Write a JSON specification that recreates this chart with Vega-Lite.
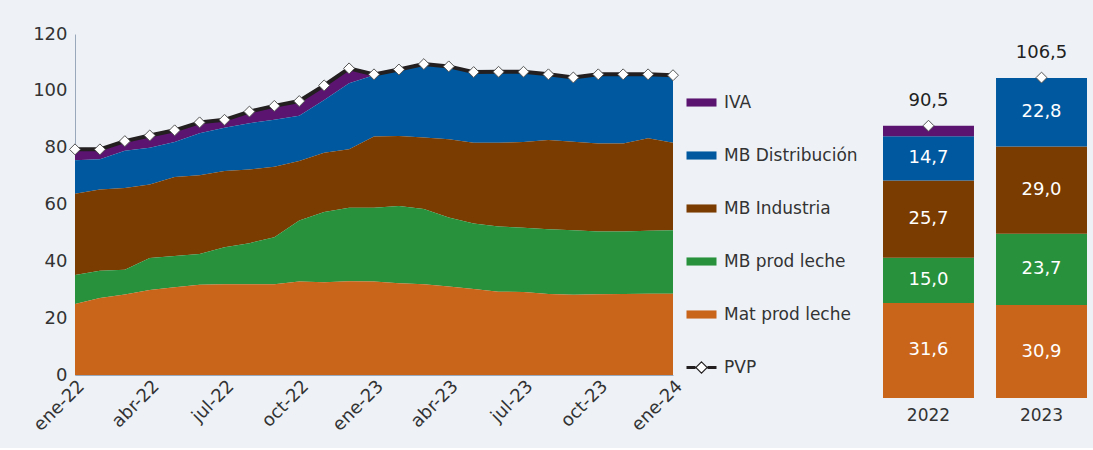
{
  "$schema": "https://vega.github.io/schema/vega-lite/v6.json",
  "background": "#EEF2F7",
  "padding": {"left": 30, "top": 25, "right": 6, "bottom": 13},
  "config": {
    "view": {"stroke": null},
    "font": "DejaVu Sans",
    "axis": {"labelFont": "DejaVu Sans", "labelColor": "#333333", "grid": false, "ticks": false, "title": null}
  },
  "datasets": {
    "mensual": [
      {"mes": "ene-22", "Mat prod leche": 25.0, "MB prod leche": 10.2, "MB Industria": 28.6, "MB Distribución": 11.8, "IVA": 3.5, "PVP": 79.4},
      {"mes": "feb-22", "Mat prod leche": 27.1, "MB prod leche": 9.6, "MB Industria": 28.6, "MB Distribución": 10.6, "IVA": 3.2, "PVP": 79.4},
      {"mes": "mar-22", "Mat prod leche": 28.3, "MB prod leche": 8.7, "MB Industria": 28.8, "MB Distribución": 13.1, "IVA": 3.1, "PVP": 82.3},
      {"mes": "abr-22", "Mat prod leche": 29.9, "MB prod leche": 11.3, "MB Industria": 25.8, "MB Distribución": 13.0, "IVA": 4.0, "PVP": 84.3},
      {"mes": "may-22", "Mat prod leche": 30.9, "MB prod leche": 11.0, "MB Industria": 27.8, "MB Distribución": 12.3, "IVA": 3.8, "PVP": 86.1},
      {"mes": "jun-22", "Mat prod leche": 31.8, "MB prod leche": 10.8, "MB Industria": 27.7, "MB Distribución": 14.8, "IVA": 3.5, "PVP": 88.9},
      {"mes": "jul-22", "Mat prod leche": 31.9, "MB prod leche": 13.1, "MB Industria": 26.8, "MB Distribución": 15.2, "IVA": 2.5, "PVP": 89.8},
      {"mes": "ago-22", "Mat prod leche": 31.9, "MB prod leche": 14.5, "MB Industria": 25.9, "MB Distribución": 16.3, "IVA": 3.8, "PVP": 92.7},
      {"mes": "sep-22", "Mat prod leche": 31.9, "MB prod leche": 16.6, "MB Industria": 24.8, "MB Distribución": 16.5, "IVA": 4.6, "PVP": 94.7},
      {"mes": "oct-22", "Mat prod leche": 32.9, "MB prod leche": 21.5, "MB Industria": 20.9, "MB Distribución": 15.9, "IVA": 4.9, "PVP": 96.4},
      {"mes": "nov-22", "Mat prod leche": 32.6, "MB prod leche": 24.8, "MB Industria": 20.8, "MB Distribución": 18.6, "IVA": 4.8, "PVP": 101.9},
      {"mes": "dic-22", "Mat prod leche": 33.0, "MB prod leche": 25.9, "MB Industria": 20.5, "MB Distribución": 23.3, "IVA": 4.9, "PVP": 107.9},
      {"mes": "ene-23", "Mat prod leche": 32.9, "MB prod leche": 26.0, "MB Industria": 25.0, "MB Distribución": 21.6, "PVP": 105.8},
      {"mes": "feb-23", "Mat prod leche": 32.3, "MB prod leche": 27.2, "MB Industria": 24.6, "MB Distribución": 23.1, "PVP": 107.5},
      {"mes": "mar-23", "Mat prod leche": 31.9, "MB prod leche": 26.5, "MB Industria": 25.2, "MB Distribución": 25.5, "PVP": 109.4},
      {"mes": "abr-23", "Mat prod leche": 31.1, "MB prod leche": 24.3, "MB Industria": 27.6, "MB Distribución": 25.3, "PVP": 108.6},
      {"mes": "may-23", "Mat prod leche": 30.3, "MB prod leche": 23.0, "MB Industria": 28.4, "MB Distribución": 24.6, "PVP": 106.6},
      {"mes": "jun-23", "Mat prod leche": 29.3, "MB prod leche": 23.0, "MB Industria": 29.4, "MB Distribución": 24.7, "PVP": 106.7},
      {"mes": "jul-23", "Mat prod leche": 29.2, "MB prod leche": 22.6, "MB Industria": 30.2, "MB Distribución": 24.4, "PVP": 106.7},
      {"mes": "ago-23", "Mat prod leche": 28.5, "MB prod leche": 22.8, "MB Industria": 31.4, "MB Distribución": 22.8, "PVP": 105.8},
      {"mes": "sep-23", "Mat prod leche": 28.2, "MB prod leche": 22.7, "MB Industria": 31.2, "MB Distribución": 22.3, "PVP": 104.7},
      {"mes": "oct-23", "Mat prod leche": 28.4, "MB prod leche": 22.1, "MB Industria": 31.0, "MB Distribución": 24.0, "PVP": 105.8},
      {"mes": "nov-23", "Mat prod leche": 28.5, "MB prod leche": 22.0, "MB Industria": 31.0, "MB Distribución": 24.0, "PVP": 105.8},
      {"mes": "dic-23", "Mat prod leche": 28.6, "MB prod leche": 22.2, "MB Industria": 32.5, "MB Distribución": 22.2, "PVP": 105.8},
      {"mes": "ene-24", "Mat prod leche": 28.6, "MB prod leche": 22.3, "MB Industria": 30.8, "MB Distribución": 23.5, "PVP": 105.5}
    ],
    "anual": [
      {"anio": "2022", "serie": "Mat prod leche", "valor": 31.6},
      {"anio": "2022", "serie": "MB prod leche", "valor": 15.0},
      {"anio": "2022", "serie": "MB Industria", "valor": 25.7},
      {"anio": "2022", "serie": "MB Distribución", "valor": 14.7},
      {"anio": "2022", "serie": "IVA", "valor": 3.5},
      {"anio": "2023", "serie": "Mat prod leche", "valor": 30.9},
      {"anio": "2023", "serie": "MB prod leche", "valor": 23.7},
      {"anio": "2023", "serie": "MB Industria", "valor": 29.0},
      {"anio": "2023", "serie": "MB Distribución", "valor": 22.8}
    ],
    "totales": [
      {"anio": "2022", "PVP": 90.5},
      {"anio": "2023", "PVP": 106.5}
    ]
  },
  "spacing": 25,
  "resolve": {"scale": {"color": "independent"}, "legend": {"color": "independent"}},
  "hconcat": [
    {
      "width": 598,
      "height": 341,
      "data": {"name": "mensual"},
      "layer": [
        {
          "transform": [
            {"fold": ["IVA", "MB Distribución", "MB Industria", "MB prod leche", "Mat prod leche"], "as": ["serie", "valor"]},
            {"filter": "isValid(datum.valor)"},
            {"calculate": "indexof(['Mat prod leche','MB prod leche','MB Industria','MB Distribución','IVA'], datum.serie)", "as": "orden"}
          ],
          "mark": {"type": "area", "interpolate": "linear"},
          "encoding": {
            "x": {
              "field": "mes", "type": "ordinal",
              "scale": {"type": "point", "padding": 0, "domain": ["ene-22","feb-22","mar-22","abr-22","may-22","jun-22","jul-22","ago-22","sep-22","oct-22","nov-22","dic-22","ene-23","feb-23","mar-23","abr-23","may-23","jun-23","jul-23","ago-23","sep-23","oct-23","nov-23","dic-23","ene-24"]},
              "axis": {"values": ["ene-22","abr-22","jul-22","oct-22","ene-23","abr-23","jul-23","oct-23","ene-24"], "labelAngle": -45, "labelFontSize": 18, "domainColor": "#9aa8bc", "labelPadding": 2}
            },
            "y": {
              "field": "valor", "type": "quantitative", "stack": "zero",
              "scale": {"domain": [0, 120], "nice": false},
              "axis": {"values": [0, 20, 40, 60, 80, 100, 120], "labelFontSize": 18, "domainColor": "#9aa8bc", "labelPadding": 8}
            },
            "color": {
              "field": "serie", "type": "nominal",
              "scale": {"domain": ["IVA", "MB Distribución", "MB Industria", "MB prod leche", "Mat prod leche", "PVP"], "range": ["#5B1570", "#00599F", "#7A3C00", "#27923B", "#C9651A", "#ffffff"]},
              "legend": {
                "orient": "none", "legendX": 618, "legendY": 60, "title": null, "padding": 0,
                "labelFontSize": 17, "labelColor": "#333333", "labelFont": "DejaVu Sans", "labelOffset": 14,
                "rowPadding": 35, "symbolSize": 900, "symbolType": "M-1,-0.27H1V0.27H-1Z",
                "encode": {
                  "symbols": {
                    "update": {
                      "shape": {"signal": "datum.value === 'PVP' ? 'M-1,-0.06H-0.4M-1,0H-0.4M-1,0.06H-0.4M0.4,-0.06H1M0.4,0H1M0.4,0.06H1M0,-0.38L0.38,0L0,0.38L-0.38,0Z' : 'M-1,-0.27H1V0.27H-1Z'"},
                      "stroke": {"signal": "datum.value === 'PVP' ? '#231F20' : 'transparent'"},
                      "strokeWidth": {"signal": "datum.value === 'PVP' ? 1.1 : 0"},
                      "fillOpacity": {"value": 1},
                      "opacity": {"value": 1}
                    }
                  }
                }
              }
            },
            "order": {"field": "orden", "type": "quantitative"}
          }
        },
        {
          "mark": {"type": "line", "color": "#231F20", "strokeWidth": 4},
          "encoding": {
            "x": {"field": "mes", "type": "ordinal"},
            "y": {"field": "PVP", "type": "quantitative"}
          }
        },
        {
          "mark": {"type": "point", "shape": "diamond", "filled": true, "fill": "#ffffff", "stroke": "#555555", "strokeWidth": 1, "size": 120, "opacity": 1},
          "encoding": {
            "x": {"field": "mes", "type": "ordinal"},
            "y": {"field": "PVP", "type": "quantitative"}
          }
        }
      ]
    },
    {
      "width": 204,
      "height": 364,
      "layer": [
        {
          "data": {"name": "anual"},
          "transform": [
            {"calculate": "indexof(['Mat prod leche','MB prod leche','MB Industria','MB Distribución','IVA'], datum.serie)", "as": "orden"},
            {"stack": "valor", "groupby": ["anio"], "sort": [{"field": "orden", "order": "ascending"}], "as": ["v0", "v1"]}
          ],
          "mark": {"type": "bar"},
          "encoding": {
            "x": {"field": "anio", "type": "nominal", "scale": {"paddingInner": 0.195, "paddingOuter": 0}, "axis": {"labelAngle": 0, "labelFontSize": 17, "domain": false, "labelPadding": 9}},
            "y": {"field": "v0", "type": "quantitative", "scale": {"domain": [0, 121], "nice": false}, "axis": null},
            "y2": {"field": "v1"},
            "color": {
              "field": "serie", "type": "nominal",
              "scale": {"domain": ["IVA", "MB Distribución", "MB Industria", "MB prod leche", "Mat prod leche", "PVP"], "range": ["#5B1570", "#00599F", "#7A3C00", "#27923B", "#C9651A", "#ffffff"]},
              "legend": null
            }
          }
        },
        {
          "data": {"name": "anual"},
          "transform": [
            {"calculate": "indexof(['Mat prod leche','MB prod leche','MB Industria','MB Distribución','IVA'], datum.serie)", "as": "orden"},
            {"stack": "valor", "groupby": ["anio"], "sort": [{"field": "orden", "order": "ascending"}], "as": ["v0", "v1"]},
            {"filter": "datum.valor > 5"},
            {"calculate": "(datum.v0 + datum.v1) / 2", "as": "mid"},
            {"calculate": "replace(format(datum.valor, '.1f'), '.', ',')", "as": "etiq"}
          ],
          "mark": {"type": "text", "color": "#ffffff", "fontSize": 18, "font": "DejaVu Sans"},
          "encoding": {
            "x": {"field": "anio", "type": "nominal"},
            "y": {"field": "mid", "type": "quantitative"},
            "text": {"field": "etiq"}
          }
        },
        {
          "data": {"name": "totales"},
          "mark": {"type": "point", "shape": "diamond", "filled": true, "fill": "#ffffff", "stroke": "#555555", "strokeWidth": 1, "size": 120, "opacity": 1},
          "encoding": {
            "x": {"field": "anio", "type": "nominal"},
            "y": {"field": "PVP", "type": "quantitative"}
          }
        },
        {
          "data": {"name": "totales"},
          "transform": [{"calculate": "replace(format(datum.PVP, '.1f'), '.', ',')", "as": "etiq"}],
          "mark": {"type": "text", "color": "#222222", "fontSize": 18, "font": "DejaVu Sans", "dy": -25},
          "encoding": {
            "x": {"field": "anio", "type": "nominal"},
            "y": {"field": "PVP", "type": "quantitative"},
            "text": {"field": "etiq"}
          }
        }
      ]
    }
  ]
}
